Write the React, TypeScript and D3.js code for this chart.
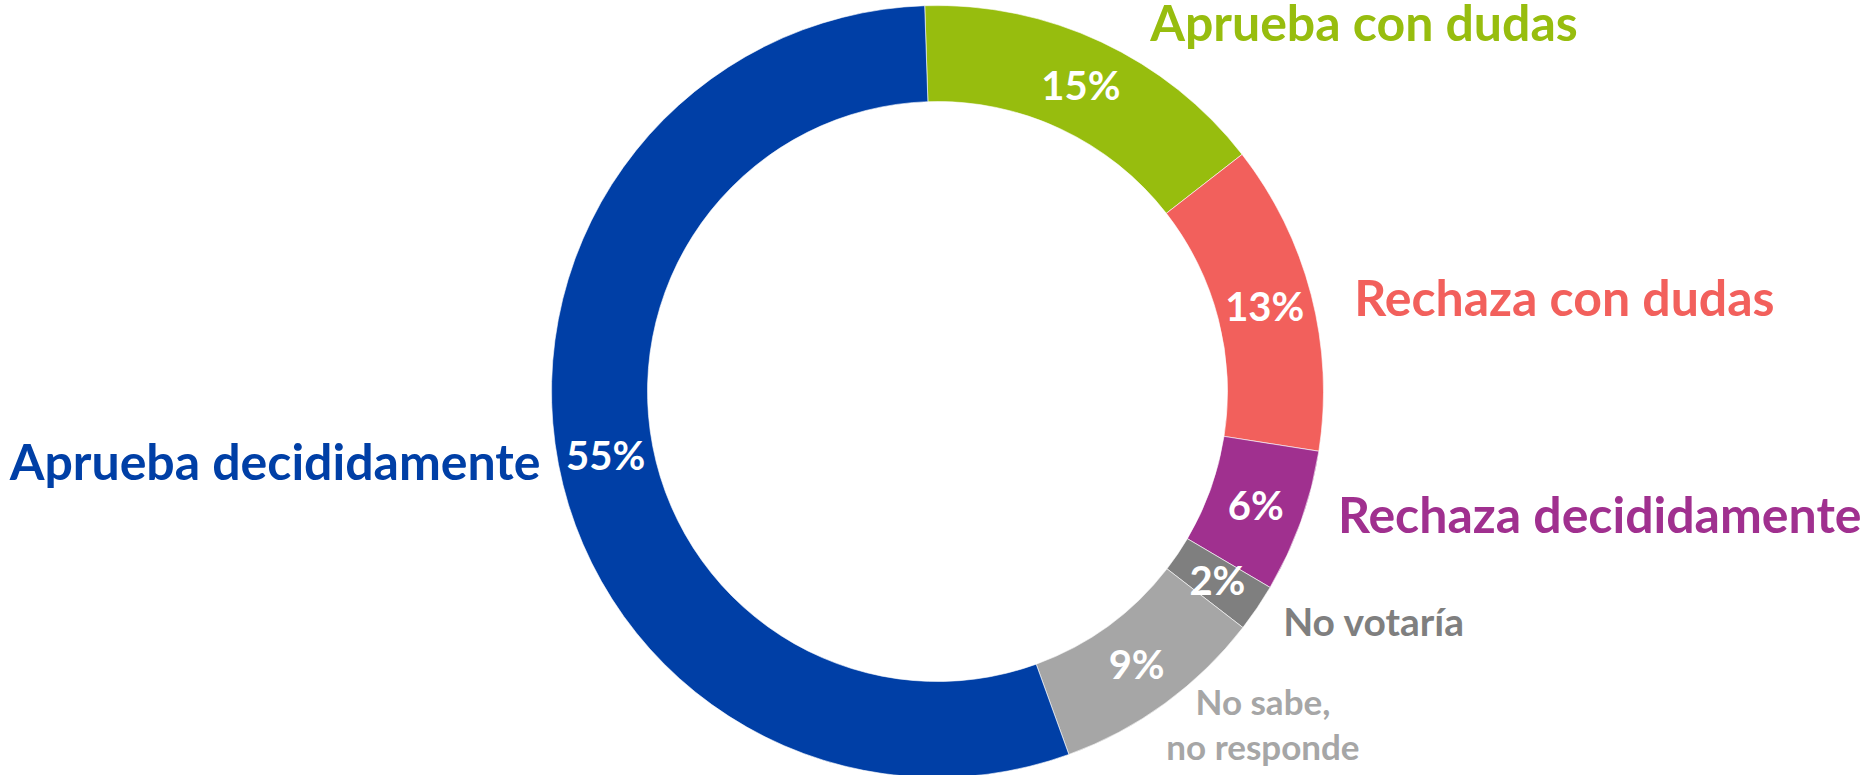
import React, { useEffect, useRef } from "react";
import * as d3 from "d3";

// survey answers, clockwise from the top
const categories = [
  "Aprueba con dudas",
  "Rechaza con dudas",
  "Rechaza decididamente",
  "No votaría",
  "No sabe, no responde",
  "Aprueba decididamente",
];
const values = [15, 13, 6, 2, 9, 55];
const sliceColors = ["#97BD0E", "#F2605C", "#A0308F", "#7F7F7F", "#A6A6A6", "#003FA6"];
const labelColors = ["#97BD0E", "#F2605C", "#A0308F", "#7F7F7F", "#A6A6A6", "#003FA6"];
// label lines (the "no sabe" label wraps onto two lines)
const labelLines = [
  ["Aprueba con dudas"],
  ["Rechaza con dudas"],
  ["Rechaza decididamente"],
  ["No votaría"],
  ["No sabe,", "no responde"],
  ["Aprueba decididamente"],
];

const width = 1862;
const height = 775;

function Donut() {
  const ref = useRef<SVGSVGElement>(null);

  useEffect(() => {
    const svg = d3.select(ref.current);
    svg.selectAll("*").remove();

    const cx = 937.5;
    const cy = 391.5;
    const outerR = 386;
    const innerR = 290;
    const start = (-1.9 * Math.PI) / 180;

    const data = categories.map((c, i) => ({ name: c, value: values[i], i }));

    const pie = d3
      .pie<any>()
      .sort(null)
      .value((d) => d.value)
      .startAngle(start)
      .endAngle(start + Math.PI * 2);

    const arc = d3.arc<any>().innerRadius(innerR).outerRadius(outerR);

    const g = svg.append("g").attr("transform", `translate(${cx},${cy})`);
    const arcs = pie(data);

    g.selectAll(".slice")
      .data(arcs)
      .join("path")
      .attr("class", "slice")
      .attr("d", arc)
      .attr("fill", (d) => sliceColors[d.data.i])
      .attr("stroke", "#fff")
      .attr("stroke-width", 0.6);

    // percentages inside the ring
    g.selectAll(".pct")
      .data(arcs)
      .join("text")
      .attr("class", "pct")
      .attr("transform", (d) => {
        const [x, y] = arc.centroid(d);
        return `translate(${x},${y})`;
      })
      .attr("text-anchor", "middle")
      .attr("dy", "0.36em")
      .attr("fill", "#fff")
      .attr("font-family", "Lato, 'Open Sans', sans-serif")
      .attr("font-weight", 700)
      .attr("font-size", 40)
      .text((d) => `${d.data.value}%`);

    // category labels, just outside the ring
    // dx / baseline nudges roughly follow where the original placed them
    const nudge = [
      [49, -1],
      [43, 21],
      [37, 11],
      [26, 28],
      [98, 12],
      [-18, 16],
    ];
    const sizes = [50, 50, 50, 39, 35, 50];

    arcs.forEach((d) => {
      const mid = (d.startAngle + d.endAngle) / 2;
      const ox = Math.sin(mid) * outerR;
      const oy = -Math.cos(mid) * outerR;
      const i = d.data.i;
      const lines = labelLines[i];
      const size = sizes[i];
      const anchor = lines.length > 1 ? "middle" : ox > 0 ? "start" : "end";
      const lh = 45;
      const t = g
        .append("text")
        .attr("x", ox + nudge[i][0])
        .attr("y", oy + nudge[i][1])
        .attr("text-anchor", anchor)
        .attr("fill", labelColors[i])
        .attr("font-family", "Lato, 'Open Sans', sans-serif")
        .attr("font-weight", 700)
        .attr("font-size", size);
      lines.forEach((l, k) => {
        t.append("tspan")
          .attr("x", ox + nudge[i][0])
          .attr("dy", k === 0 ? 0 : lh)
          .text(l);
      });
    });
  }, []);

  return (
    <svg
      ref={ref}
      width={width}
      height={height}
      style={{ position: "absolute", left: 0, top: 0, background: "#fff" }}
    />
  );
}

export default function App() {
  return <Donut />;
}
